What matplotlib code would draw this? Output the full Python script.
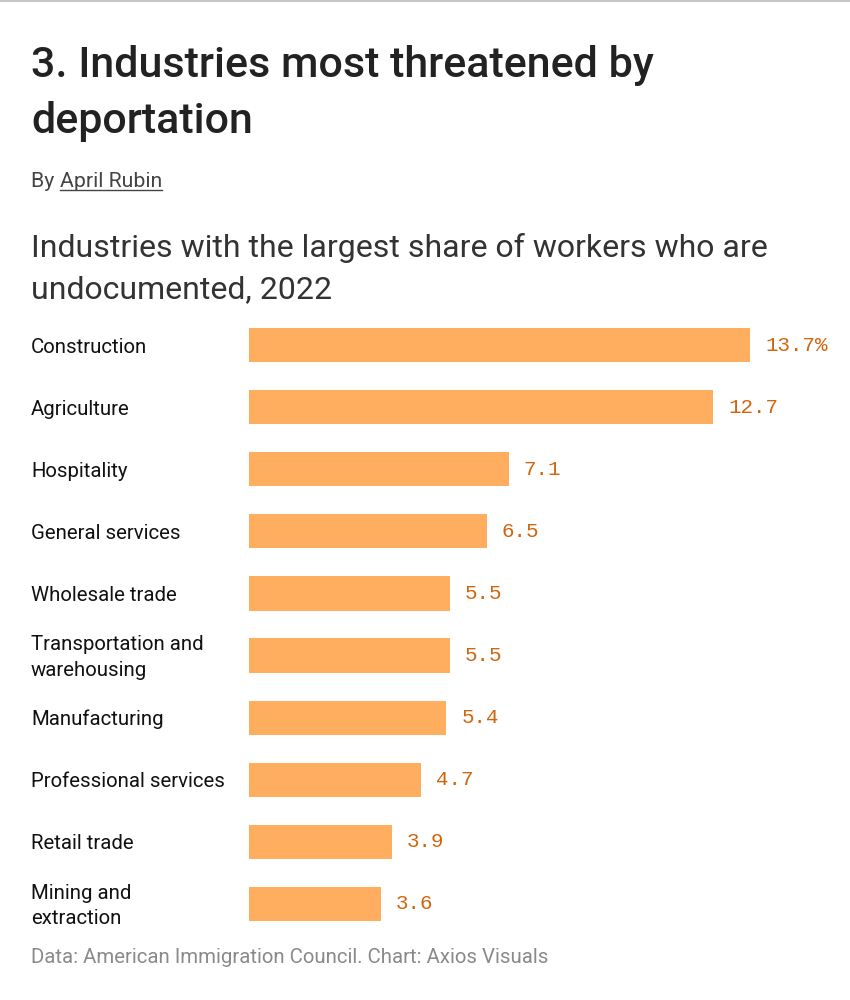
import matplotlib
matplotlib.use("Agg")
import matplotlib.pyplot as plt
from matplotlib.transforms import blended_transform_factory, offset_copy
from matplotlib.lines import Line2D

categories = ["Construction", "Agriculture", "Hospitality", "General services",
              "Wholesale trade", "Transportation and\nwarehousing", "Manufacturing",
              "Professional services", "Retail trade", "Mining and\nextraction"]
values = [13.7, 12.7, 7.1, 6.5, 5.5, 5.5, 5.4, 4.7, 3.9, 3.6]
value_labels = ["13.7%", "12.7", "7.1", "6.5", "5.5", "5.5", "5.4", "4.7", "3.9", "3.6"]

W, H = 850, 1000
fig = plt.figure(figsize=(W / 100, H / 100), dpi=100)
fig.patch.set_facecolor("white")

def fx(px):
    return px / W

def fy(py):
    return 1 - py / H

SANS = ["Roboto", "DejaVu Sans"]
MONO = ["Liberation Mono", "DejaVu Sans Mono"]

# top border line
fig.add_artist(Line2D([0, 1], [fy(0.8), fy(0.8)], color="#c8c8c8", lw=1.5))

# Title
fig.text(fx(31), fy(77), "3. Industries most threatened by", family=SANS,
         fontweight="medium", fontsize=31, color="#222222", va="baseline")
fig.text(fx(31), fy(133), "deportation", family=SANS,
         fontweight="medium", fontsize=31, color="#222222", va="baseline")

# Byline
t_by = fig.text(fx(31), fy(187), "By ", family=SANS, fontsize=15.3, color="#444444", va="baseline")
fig.canvas.draw()
r = fig.canvas.get_renderer()
bb = t_by.get_window_extent(r)
t_ar = fig.text(bb.x1 / W, fy(187), "April Rubin", family=SANS, fontsize=15.3,
                color="#444444", va="baseline")
bb2 = t_ar.get_window_extent(r)
fig.add_artist(Line2D([bb2.x0 / W, bb2.x1 / W], [fy(190), fy(190)], color="#444444", lw=1))

# Subtitle
fig.text(fx(31), fy(257), "Industries with the largest share of workers who are",
         family=SANS, fontsize=23, color="#333333", va="baseline")
fig.text(fx(31), fy(298), "undocumented, 2022",
         family=SANS, fontsize=23, color="#333333", va="baseline")

# Footer
fig.text(fx(31), fy(963), "Data: American Immigration Council. Chart: Axios Visuals",
         family=SANS, fontsize=14.7, color="#8a8a8a", va="baseline")

# Bars axes: x pixel 249 -> 0, 750 -> 13.7
left_px, right_px = 249, 850
scale = (750 - 249) / 13.7
top_px, bot_px = 314, 935
ax = fig.add_axes([fx(left_px), fy(bot_px), (right_px - left_px) / W, (bot_px - top_px) / H])
ax.set_xlim(0, (right_px - left_px) / scale)
n = len(categories)
ax.set_ylim(n - 0.5, -0.5)
ypos = list(range(n))
ax.barh(ypos, values, height=0.55, color="#FFAE5F", edgecolor="none")
ax.axis("off")

for i, (v, lab) in enumerate(zip(values, value_labels)):
    ax.annotate(lab, xy=(v, i), xytext=(15, 0), textcoords="offset pixels",
                family=MONO, fontsize=15, color="#D0650D", va="center", ha="left")

trans = offset_copy(blended_transform_factory(fig.transFigure, ax.transData),
                    fig=fig, x=0, y=-2, units="dots")
for i, c in enumerate(categories):
    ax.text(fx(31), i, c, transform=trans, family=SANS, fontsize=14.7, color="#111111",
            va="center", ha="left", linespacing=1.45)

fig.savefig("out.png", dpi=100, facecolor="white")
